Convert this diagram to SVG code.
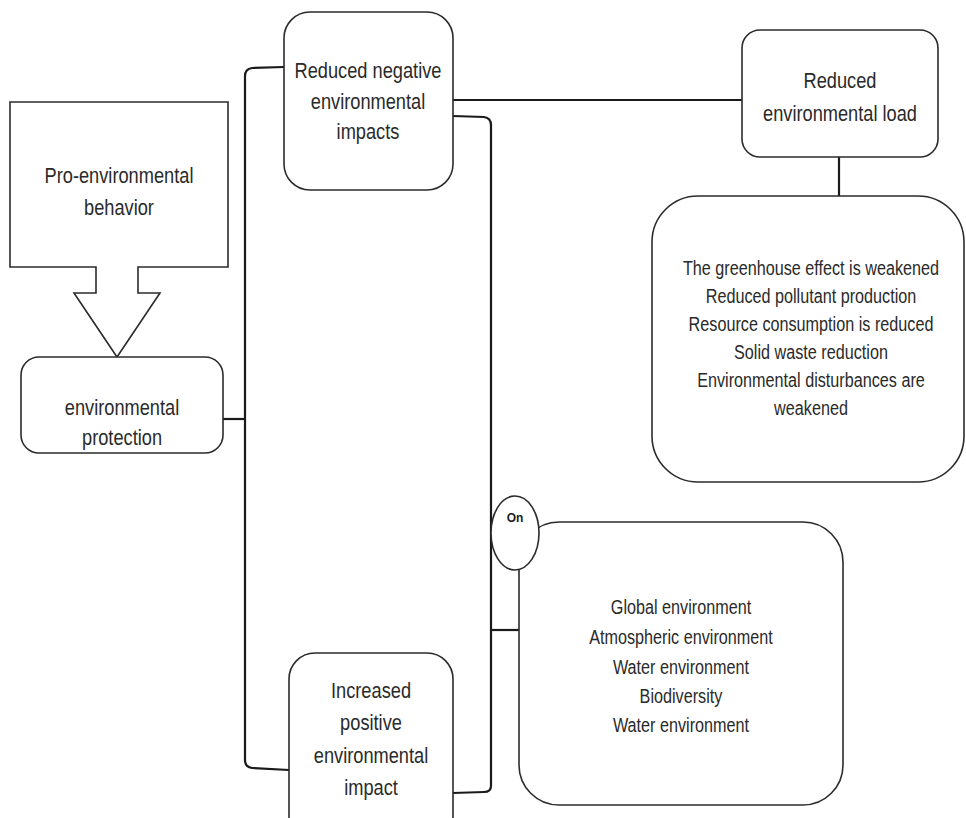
<svg xmlns="http://www.w3.org/2000/svg" width="966" height="818" viewBox="0 0 966 818">
  <defs>
    <style>
      .box { fill: #ffffff; stroke: #2b2b2b; stroke-width: 1.6; }
      .wire { fill: none; stroke: #1a1a1a; stroke-width: 2.2; }
      .lbl { font-family: "Liberation Sans", Arial, sans-serif; font-size: 22.5px; fill: #2a2a2a; text-anchor: middle; }
      .lst { font-family: "Liberation Sans", Arial, sans-serif; font-size: 20px; fill: #2a2a2a; text-anchor: middle; }
      .tag { font-family: "Liberation Sans", Arial, sans-serif; font-size: 12px; font-weight: bold; fill: #1a1a1a; text-anchor: middle; }
    </style>
  </defs>
  <rect width="966" height="818" fill="#ffffff"/>

  <!-- connectors -->
  <g id="connectors">
    <!-- environmental protection to the left bracket -->
    <path class="wire" d="M222,419 H245"/>
    <!-- left bracket joining both impact nodes -->
    <path class="wire" d="M284,67 L252,68 Q245,69 245,76 L245,760 Q245,767 252,768 L289,770"/>
    <!-- reduced negative impacts to reduced environmental load -->
    <path class="wire" d="M453,100 H742"/>
    <!-- reduced environmental load to its effects -->
    <path class="wire" d="M839,157 V196"/>
    <!-- right bracket from both impact nodes -->
    <path class="wire" d="M453,116 L484,117 Q491,118 491,125 L491,786 Q491,792 484,792 L453,793"/>
    <!-- bracket to the affected environments -->
    <path class="wire" d="M491,630 H519"/>
  </g>

  <!-- Pro-environmental behavior: box with downward block arrow -->
  <g id="pro-environmental-behavior">
    <path class="box" d="M10,102 H228 V267 H138 V293 H160 L117,357 L74,293 H96 V267 H10 Z"/>
    <g transform="translate(119,0) scale(0.81,1)">
      <text class="lbl"><tspan x="0" y="183">Pro-environmental</tspan><tspan x="0" y="215">behavior</tspan></text>
    </g>
  </g>

  <!-- environmental protection -->
  <g id="environmental-protection">
    <rect class="box" x="21" y="357" width="202" height="96" rx="18"/>
    <g transform="translate(122,0) scale(0.81,1)">
      <text class="lbl"><tspan x="0" y="415">environmental</tspan><tspan x="0" y="445">protection</tspan></text>
    </g>
  </g>

  <!-- Reduced negative environmental impacts -->
  <g id="reduced-negative-impacts">
    <rect class="box" x="284" y="12" width="169" height="178" rx="26"/>
    <g transform="translate(368,0) scale(0.81,1)">
      <text class="lbl"><tspan x="0" y="78">Reduced negative</tspan><tspan x="0" y="109">environmental</tspan><tspan x="0" y="139">impacts</tspan></text>
    </g>
  </g>

  <!-- Increased positive environmental impact -->
  <g id="increased-positive-impact">
    <rect class="box" x="289" y="653" width="164" height="190" rx="26"/>
    <g transform="translate(371,0) scale(0.81,1)">
      <text class="lbl"><tspan x="0" y="698">Increased</tspan><tspan x="0" y="730">positive</tspan><tspan x="0" y="763">environmental</tspan><tspan x="0" y="795">impact</tspan></text>
    </g>
  </g>

  <!-- Reduced environmental load -->
  <g id="reduced-environmental-load">
    <rect class="box" x="742" y="30" width="196" height="127" rx="18"/>
    <g transform="translate(840,0) scale(0.81,1)">
      <text class="lbl"><tspan x="0" y="88">Reduced</tspan><tspan x="0" y="121">environmental load</tspan></text>
    </g>
  </g>

  <!-- effects of the reduced load -->
  <g id="load-effects">
    <rect class="box" x="652" y="196" width="312" height="286" rx="46"/>
    <g transform="translate(811,0) scale(0.81,1)">
      <text class="lst"><tspan x="0" y="275">The greenhouse effect is weakened</tspan><tspan x="0" y="303">Reduced pollutant production</tspan><tspan x="0" y="331">Resource consumption is reduced</tspan><tspan x="0" y="359">Solid waste reduction</tspan><tspan x="0" y="387">Environmental disturbances are</tspan><tspan x="0" y="415">weakened</tspan></text>
    </g>
  </g>

  <!-- affected environments -->
  <g id="affected-environments">
    <rect class="box" x="519" y="522" width="324" height="283" rx="40"/>
    <g transform="translate(681,0) scale(0.81,1)">
      <text class="lst"><tspan x="0" y="614">Global environment</tspan><tspan x="0" y="644">Atmospheric environment</tspan><tspan x="0" y="674">Water environment</tspan><tspan x="0" y="703">Biodiversity</tspan><tspan x="0" y="732">Water environment</tspan></text>
    </g>
  </g>

  <!-- "On" marker -->
  <g id="on-marker">
    <ellipse class="box" cx="515" cy="533" rx="24" ry="37"/>
    <text class="tag" x="515" y="522">On</text>
  </g>
</svg>
